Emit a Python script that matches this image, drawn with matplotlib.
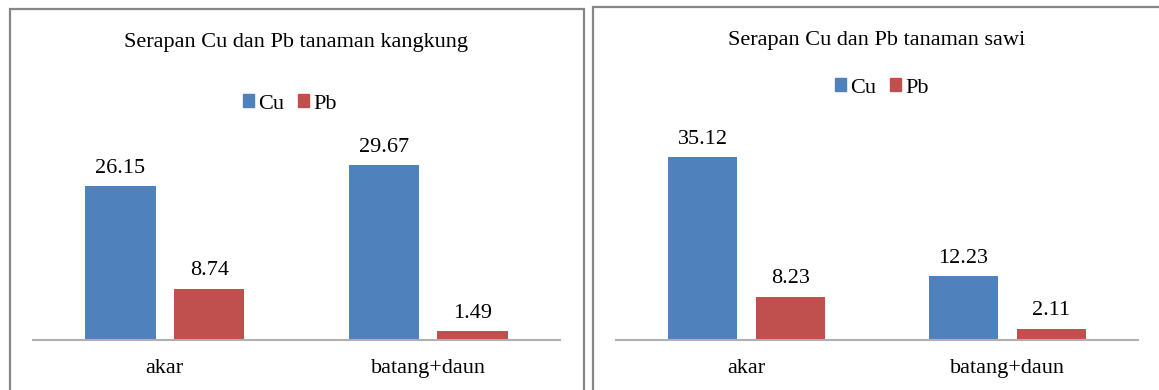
import matplotlib
matplotlib.use("Agg")
import matplotlib.pyplot as plt
from matplotlib.patches import Rectangle, Patch
import numpy as np

plt.rcParams['font.family'] = ['Liberation Serif', 'DejaVu Serif']

categories = ["akar", "batang+daun"]
series_names = ["Cu", "Pb"]
kangkung_cu = [26.15, 29.67]
kangkung_pb = [8.74, 1.49]
sawi_cu = [35.12, 12.23]
sawi_pb = [8.23, 2.11]
titles = ["Serapan Cu dan Pb tanaman kangkung", "Serapan Cu dan Pb tanaman sawi"]

BLUE = "#4F81BD"
RED = "#C0504D"
W, H = 1159, 390
DPI = 100
fig = plt.figure(figsize=(W / DPI, H / DPI), dpi=DPI)

def fx(x):
    return x / W

def fy(y):
    return 1 - y / H

# panel borders
for (x0, y0, x1, y1) in [(10, 9, 584, 400), (593, 7, 1170, 400)]:
    fig.patches.append(Rectangle((fx(x0), fy(y1)), fx(x1 - x0), (y1 - y0) / H,
                                 transform=fig.transFigure, fill=False,
                                 edgecolor="#868686", linewidth=1.6, zorder=0))

panels = [
    dict(cu=kangkung_cu, pb=kangkung_pb, title=titles[0], ax=(33, 560, 134, 340), ymax=35,
         title_xy=(296, 42), leg_xy=(290, 104)),
    dict(cu=sawi_cu, pb=sawi_pb, title=titles[1], ax=(616, 1138, 131.5, 339.5), ymax=40,
         title_xy=(877, 41), leg_xy=(882, 88)),
]

FS = 16
bw = 0.267
gap = 0.07
for p in panels:
    x0, x1, yt, yb = p["ax"]
    ax = fig.add_axes([fx(x0), fy(yb), fx(x1 - x0), (yb - yt) / H])
    x = np.arange(len(categories))
    b1 = ax.bar(x - (bw + gap) / 2, p["cu"], bw, color=BLUE, label=series_names[0])
    b2 = ax.bar(x + (bw + gap) / 2, p["pb"], bw, color=RED, label=series_names[1])
    ax.bar_label(b1, labels=[f"{v:.2f}" for v in p["cu"]], padding=6, fontsize=FS)
    ax.bar_label(b2, labels=[f"{v:.2f}" for v in p["pb"]], padding=6, fontsize=FS)
    ax.set_xlim(-0.5, 1.5)
    ax.set_ylim(0, p["ymax"])
    ax.set_yticks([])
    ax.set_xticks(x)
    ax.set_xticklabels(categories, fontsize=FS)
    ax.tick_params(axis="x", length=0, pad=14)
    for s in ["top", "left", "right"]:
        ax.spines[s].set_visible(False)
    ax.spines["bottom"].set_color("#B0B0B0")
    ax.spines["bottom"].set_linewidth(1.5)
    ax.patch.set_alpha(0)
    fig.text(fx(p["title_xy"][0]), fy(p["title_xy"][1]), p["title"], ha="center", va="center",
             fontsize=FS, color="#000000")
    handles = [Patch(color=BLUE, label=series_names[0]), Patch(color=RED, label=series_names[1])]
    fig.legend(handles=handles, loc="center", bbox_to_anchor=(fx(p["leg_xy"][0]), fy(p["leg_xy"][1])),
               ncol=2, frameon=False, fontsize=FS, handlelength=0.5, handleheight=0.5,
               handletextpad=0.2, columnspacing=0.6, borderpad=0, borderaxespad=0)

fig.savefig("out.png", dpi=DPI)
